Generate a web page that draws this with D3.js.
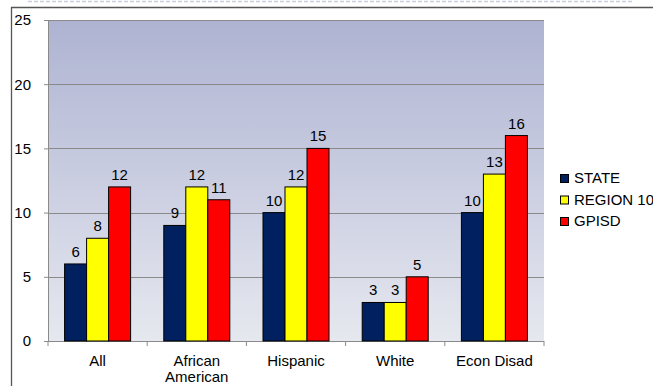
<!DOCTYPE html>
<html>
<head>
<meta charset="utf-8">
<script src="https://cdn.jsdelivr.net/npm/d3@7"></script>
<style>
body{margin:0;background:#fff}
text{font-family:"Liberation Sans",Arial,sans-serif}
</style>
</head>
<body>
<script>
const w=653
const h=386

const categories=["All","African American","Hispanic","White","Econ Disad"]
const seriesNames=["STATE","REGION 10","GPISD"]
const state=[6,9,10,3,10]
const region10=[8,12,12,3,13]
const gpisd=[12,11,15,5,16]
const yTicks=[0,5,10,15,20,25]
const colors=["#002060","#ffff00","#ff0000"]

const series=[state,region10,gpisd]

const plot={left:48,right:544,top:20,bottom:341}

const x=d3.scaleBand()
    .domain(categories)
    .range([plot.left,plot.right])

const xs=d3.scaleBand()
    .domain(seriesNames)
    .range([0,66])

const y=d3.scaleLinear()
    .domain([0,25])
    .range([plot.bottom,plot.top])

const svg=d3.create("svg")
    .attr("width",w)
    .attr("height",h)

// outer frame
svg.append("line")
    .attr("x1",28).attr("x2",633).attr("y1",1.5).attr("y2",1.5)
    .attr("stroke","#c8d0dc").attr("stroke-width",1.5).attr("stroke-dasharray","4,2")
svg.append("path")
    .attr("d",`M11.5,${h} V7.5 H${w}`)
    .attr("fill","none").attr("stroke","#555").attr("stroke-width",1.3)

// gradient plot background
const grad=svg.append("defs").append("linearGradient")
    .attr("id","bg").attr("x1",0).attr("x2",0).attr("y1",0).attr("y2",1)
grad.append("stop").attr("offset","0%").attr("stop-color","#aeb3d2")
grad.append("stop").attr("offset","100%").attr("stop-color","#e6e8ef")

svg.append("rect")
    .attr("x",plot.left).attr("y",plot.top)
    .attr("width",plot.right-plot.left).attr("height",plot.bottom-plot.top)
    .attr("fill","url(#bg)")

// gridlines
svg.append("g")
    .selectAll("line")
    .data(yTicks.slice(1))
    .enter()
    .append("line")
    .attr("x1",plot.left).attr("x2",plot.right)
    .attr("y1",d=>Math.round(y(d))+0.5).attr("y2",d=>Math.round(y(d))+0.5)
    .attr("stroke","#8a8a8a")

// y axis
const yAxis=svg.append("g")
    .attr("transform",`translate(${plot.left},0)`)
    .call(d3.axisLeft(y).tickValues(yTicks).tickSize(4).tickPadding(13))
yAxis.select(".domain").attr("stroke","#8a8a8a")
yAxis.selectAll(".tick line").attr("stroke","#8a8a8a")
yAxis.selectAll("text").attr("font-size",15).attr("fill","#000")

// x axis
const xAxis=svg.append("g")
    .attr("transform",`translate(0,${plot.bottom})`)
xAxis.append("line")
    .attr("x1",plot.left).attr("x2",plot.right).attr("y1",0.5).attr("y2",0.5)
    .attr("stroke","#8a8a8a")
xAxis.selectAll(".sep")
    .data(categories.concat(["end"]))
    .enter()
    .append("line")
    .attr("x1",(d,i)=>i<categories.length?x(d):plot.right)
    .attr("x2",(d,i)=>i<categories.length?x(d):plot.right)
    .attr("y1",0).attr("y2",5)
    .attr("stroke","#8a8a8a")
xAxis.selectAll(".lab")
    .data(categories)
    .enter()
    .append("text")
    .attr("x",d=>x(d)+x.bandwidth()/2)
    .attr("y",25)
    .attr("text-anchor","middle")
    .attr("font-size",15)
    .each(function(d){
        const parts=d==="African American"?["African","American"]:[d]
        d3.select(this).selectAll("tspan")
            .data(parts)
            .enter()
            .append("tspan")
            .attr("x",x(d)+x.bandwidth()/2)
            .attr("dy",(p,i)=>i?16:0)
            .text(p=>p)
    })

// bars
const groups=svg.append("g")
    .selectAll("g")
    .data(seriesNames)
    .enter()
    .append("g")

groups.each(function(s,si){
    const g=d3.select(this)
    g.selectAll("rect")
        .data(series[si])
        .enter()
        .append("rect")
        .attr("x",(d,i)=>x(categories[i])+(x.bandwidth()-66)/2+xs(s))
        .attr("y",d=>y(d))
        .attr("width",xs.bandwidth())
        .attr("height",d=>plot.bottom-y(d))
        .attr("fill",colors[si])
        .attr("stroke","#000")
        .attr("stroke-width",1)
    g.selectAll("text")
        .data(series[si])
        .enter()
        .append("text")
        .attr("x",(d,i)=>x(categories[i])+(x.bandwidth()-66)/2+xs(s)+xs.bandwidth()/2)
        .attr("y",d=>y(d)-7)
        .attr("text-anchor","middle")
        .attr("font-size",15)
        .text(d=>d)
})

// legend
const legend=svg.append("g")
    .selectAll("g")
    .data(seriesNames)
    .enter()
    .append("g")
    .attr("transform",(d,i)=>`translate(560,${173+i*21.5})`)
legend.append("rect")
    .attr("x",0.5).attr("y",1.5).attr("width",8).attr("height",8)
    .attr("fill",(d,i)=>colors[i]).attr("stroke","#000")
legend.append("text")
    .attr("x",14).attr("y",10)
    .attr("font-size",15)
    .text(d=>d)

d3.select("body")
    .append(()=>svg.node())
</script>
</body>
</html>
